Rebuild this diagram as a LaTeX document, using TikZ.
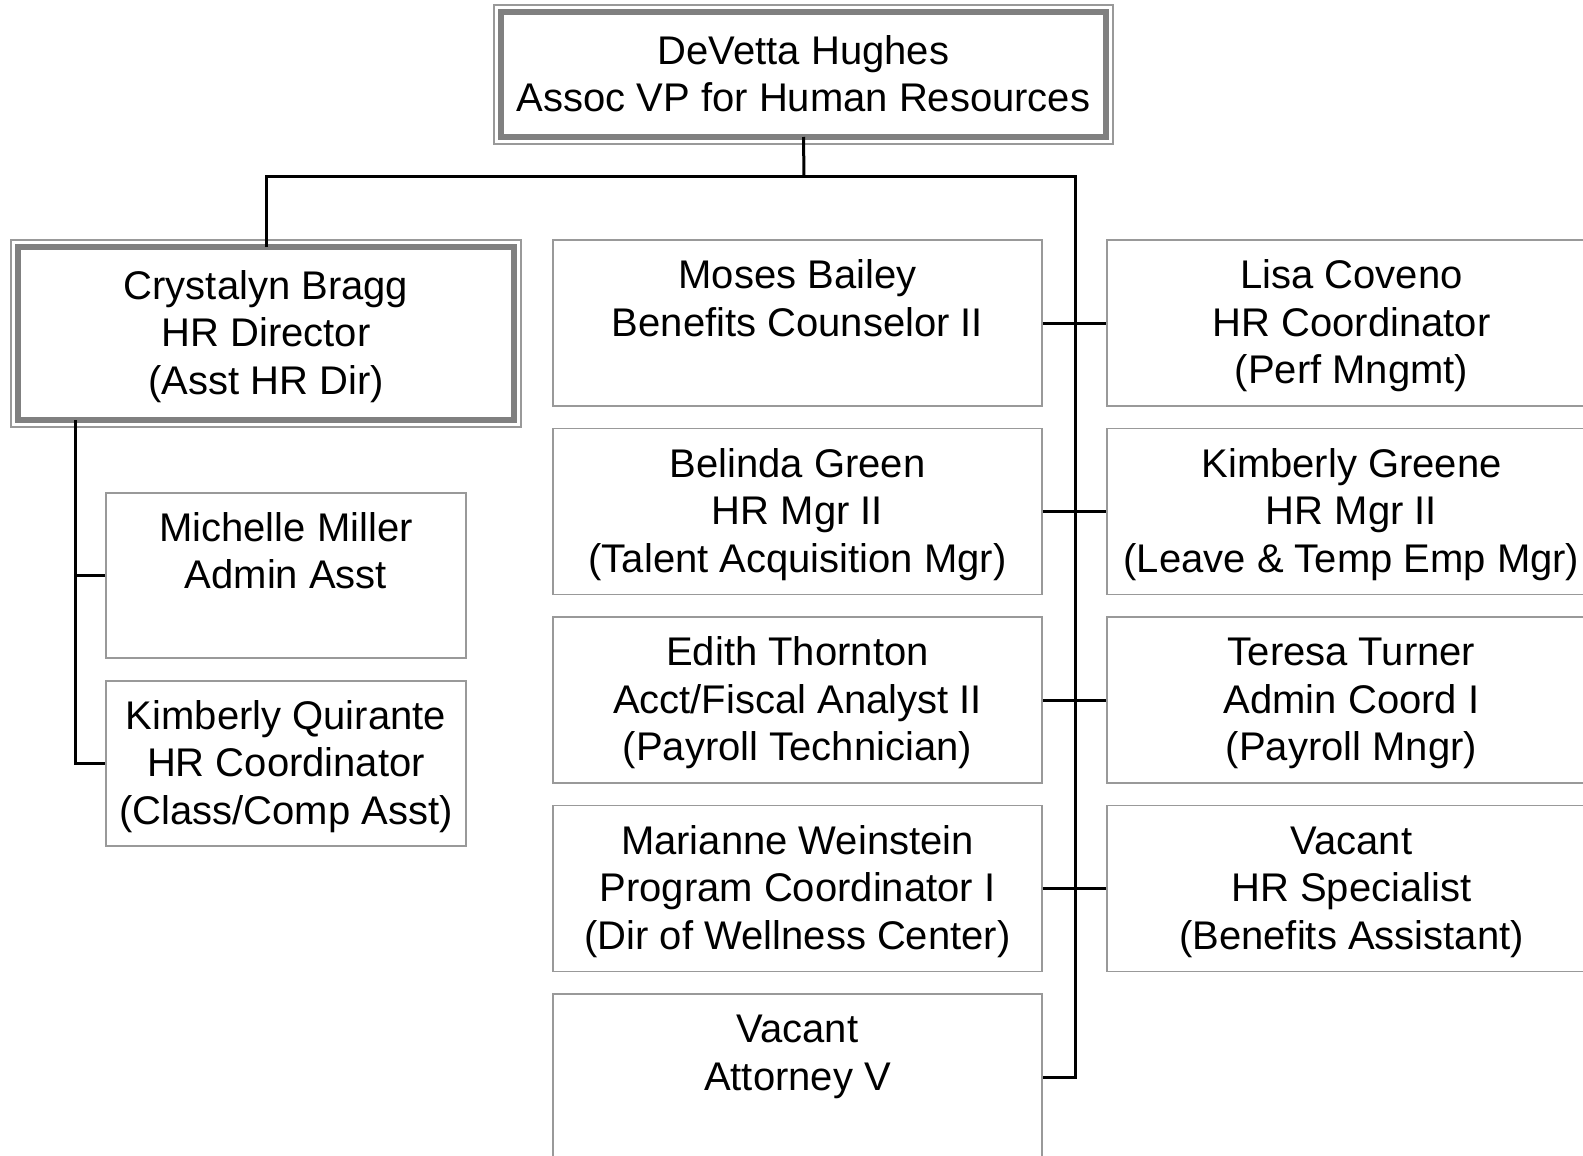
\documentclass[tikz,border=0pt]{standalone}
\usepackage{fontspec}
\setmainfont{Liberation Sans}
\usetikzlibrary{calc}

\tikzset{
  staff/.style={draw=gray!80, line width=1.5pt, minimum width=489pt, minimum height=166pt,
    inner sep=0pt, align=center, font=\fontsize{40}{47.5}\selectfont},
  headbox/.style={draw=gray, line width=6pt, outer sep=0pt, inner sep=0pt,
    align=center, font=\fontsize{40}{47.5}\selectfont},
  frame/.style={draw=gray!80, line width=2pt},
  link/.style={line width=3pt, black}
}
\newcommand{\topstrut}{\rule{0pt}{41pt}}
\newcommand{\post}[3]{\topstrut#1\\#2\\#3\strut}

\begin{document}
\begin{tikzpicture}[x=1pt, y=-1pt]
    \useasboundingbox (0,0) rectangle (1583,1156);

    % Head of department
    \node[headbox, minimum width=605pt, minimum height=125pt] (vp) at (803.5,74.5)
        {\topstrut DeVetta Hughes\\Assoc VP for Human Resources\strut};
    \draw[frame] ($(vp.north west)+(-7,-7)$) rectangle ($(vp.south east)+(7,7)$);

    % HR director
    \node[headbox, minimum width=496pt, minimum height=173pt] (dir) at (266,333.5)
        {\post{Crystalyn Bragg}{HR Director}{(Asst HR Dir)}};
    \draw[frame] ($(dir.north west)+(-7,-7)$) rectangle ($(dir.south east)+(7,7)$);

    % Director's staff
    \node[staff, minimum width=360pt, minimum height=165pt] (miller) at (286,575.5)
        {\post{Michelle Miller}{Admin Asst}{}};
    \node[staff, minimum width=360pt, minimum height=165pt] (quirante) at (286,763.5)
        {\post{Kimberly Quirante}{HR Coordinator}{(Class/Comp Asst)}};

    % Middle column
    \node[staff] (bailey) at (797.5,323) {\post{Moses Bailey}{Benefits Counselor II}{}};
    \node[staff] (green) at (797.5,511.5) {\post{Belinda Green}{HR Mgr II}{(Talent Acquisition Mgr)}};
    \node[staff] (thornton) at (797.5,700) {\post{Edith Thornton}{Acct/Fiscal Analyst II}{(Payroll Technician)}};
    \node[staff] (weinstein) at (797.5,888.5) {\post{Marianne Weinstein}{Program Coordinator I}{(Dir of Wellness Center)}};
    \node[staff] (attorney) at (797.5,1077) {\post{Vacant}{Attorney V}{}};

    % Right column
    \node[staff] (coveno) at (1351.5,323) {\post{Lisa Coveno}{HR Coordinator}{(Perf Mngmt)}};
    \node[staff] (greene) at (1351.5,511.5) {\post{Kimberly Greene}{HR Mgr II}{(Leave \& Temp Emp Mgr)}};
    \node[staff] (turner) at (1351.5,700) {\post{Teresa Turner}{Admin Coord I}{(Payroll Mngr)}};
    \node[staff] (specialist) at (1351.5,888.5) {\post{Vacant}{HR Specialist}{(Benefits Assistant)}};

    % Reporting lines
    \coordinate (bus) at (804,176);
    \coordinate (trunk) at (1075,176);
    \coordinate (lbranch) at (75,0);
    \draw[link] (vp.south) -- (bus);
    \draw[link] (dir.north) |- (trunk) -- (trunk |- attorney.east) -- (attorney.east);
    \draw[link] (bailey.east) -- (coveno.west);
    \draw[link] (green.east) -- (greene.west);
    \draw[link] (thornton.east) -- (turner.west);
    \draw[link] (weinstein.east) -- (specialist.west);
    \draw[link] (dir.south -| lbranch) |- (quirante.west);
    \draw[link] (miller.west) -- (miller.west -| lbranch);
\end{tikzpicture}
\end{document}
